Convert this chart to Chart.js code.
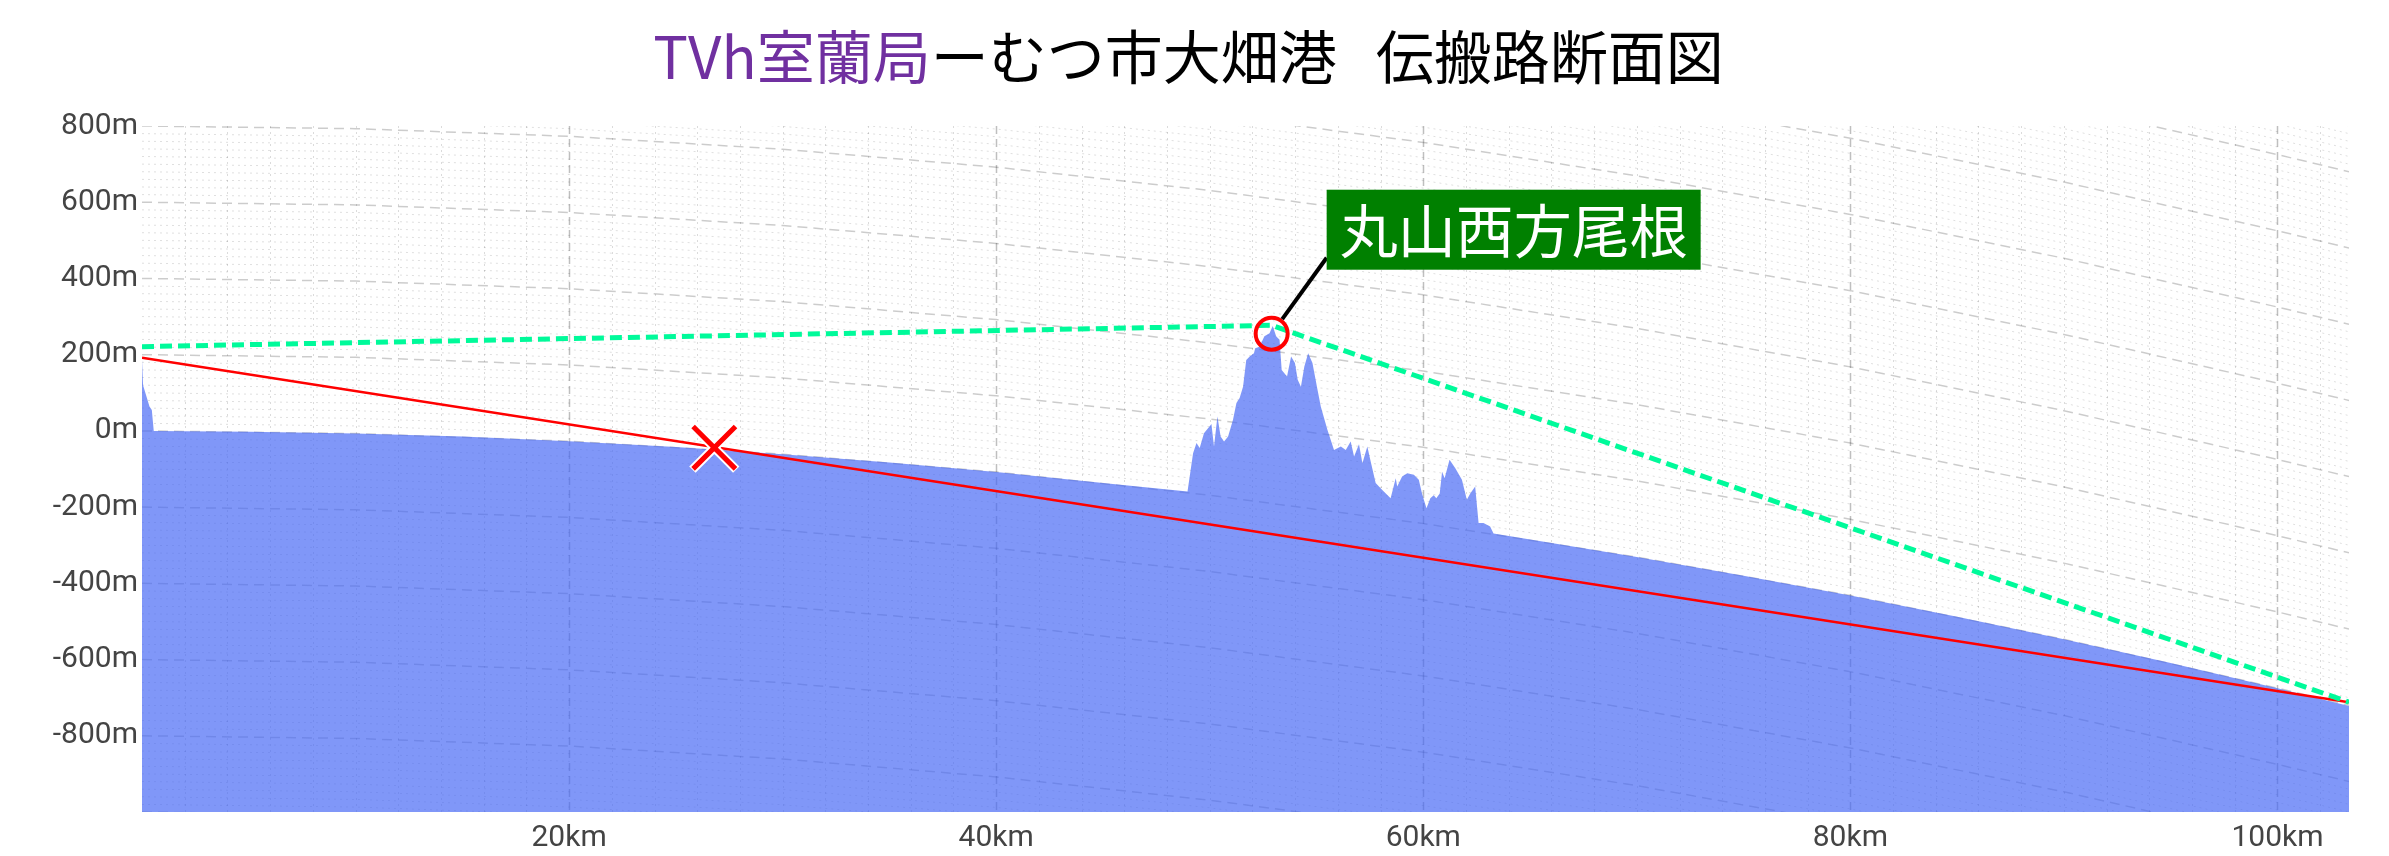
<!DOCTYPE html>
<html lang="ja">
<head>
<meta charset="UTF-8">
<title>伝搬路断面図</title>
<script src="https://cdn.jsdelivr.net/npm/chart.js"></script>
<style>
  body { margin: 0; background: #fff; }
  #wrap { position: relative; width: 2389px; height: 856px; }
  #title {
    position: absolute; left: -6px; top: 25px; width: 2389px; white-space: pre;
    text-align: center; font: 58px/58px "Noto Sans CJK JP", sans-serif; color: #000;
  }
  #title .tx { color: #7030a0; }
</style>
</head>
<body>
<div id="wrap">
  <canvas id="profile" width="2389" height="856"></canvas>
  <div id="title"><span class="tx">TVh室蘭局</span>ーむつ市大畑港   伝搬路断面図</div>
</div>
<script>
// terrain profile (distance km / height m, earth curvature already applied)
const terrainKm = [0, 0.05, 0.35, 0.46, 0.55, 5, 10, 15, 20, 25, 30, 35, 40, 45, 48.96,
  49.22, 49.38, 49.53, 49.73, 49.92, 50.08, 50.2, 50.36, 50.51, 50.67, 50.86, 51.09, 51.25, 51.4,
  51.56, 51.71, 51.87, 52.07, 52.13, 52.33, 52.56, 52.8, 52.95, 53.11, 53.27, 53.37, 53.62, 53.81,
  53.99, 54.12, 54.27, 54.43, 54.61, 54.81, 55.02, 55.2, 55.51, 55.82, 56.14, 56.37, 56.6, 56.76,
  56.99, 57.15, 57.38, 57.54, 57.77, 58.08, 58.47, 58.71, 58.78, 59.01, 59.25, 59.56, 59.79, 59.94,
  60.15, 60.33, 60.49, 60.61, 60.77, 60.88, 61.0, 61.23, 61.5, 61.81, 62.04, 62.2, 62.43, 62.59,
  62.82, 63.13, 63.29, 64.22, 70, 75, 80, 85, 90, 95, 100, 103.35];
const terrainM = [186, 120, 64, 55, 0, -2, -7, -15, -27, -42, -61, -83, -108, -137, -159,
  -59, -32, -45, -6, 7, 18, -41, 38, -15, -28, -15, 29, 73, 86,
  116, 186, 195, 204, 217, 221, 248, 256, 275, 248, 239, 160, 143, 195,
  178, 134, 116, 169, 204, 178, 116, 64, 3, -50, -41, -50, -28, -67,
  -35, -85, -41, -81, -137, -155, -177, -124, -146, -120, -111, -115, -128, -164,
  -203, -177, -169, -177, -164, -107, -124, -76, -98, -128, -181, -164, -146, -242,
  -242, -251, -269, -278, -331, -380, -432, -488, -547, -609, -675, -722];

// direct line (red)
const directKm = [0, 103.35];
const directM = [192, -712];

// diffraction path (green dashed)
const pathKm = [0, 52.9, 103.35];
const pathM = [221, 277, -712];

// obstruction marks
const crossKm = [26.8];
const crossM = [-44];
const peakKm = [52.9];
const peakM = [255];
const peakName = '丸山西方尾根';

// earth-curvature drop of the grid curves
const curveKm = [0, 10, 20, 30, 40, 50, 60, 70, 80, 90, 100, 103.35];
const curveDrop = [0, 7, 27, 61, 108, 169, 243, 331, 432, 547, 675, 720];

// axis ticks
const xTicks = [20, 40, 60, 80, 100];
const yTicks = [-800, -600, -400, -200, 0, 200, 400, 600, 800];

const pts = (xs, ys) => xs.map((v, i) => ({ x: v, y: ys[i] }));

const curvedGrid = {
  id: 'curvedGrid',
  beforeDatasetsDraw(chart) {
    const { ctx, chartArea: a, scales: { x, y } } = chart;
    ctx.save();
    ctx.beginPath();
    ctx.rect(a.left, a.top, a.right - a.left, a.bottom - a.top);
    ctx.clip();

    // vertical lines every 2 km
    for (let km = 2; km < x.max; km += 2) {
      const major = km % 20 === 0;
      const px = Math.round(x.getPixelForValue(km)) + 0.5;
      ctx.setLineDash(major ? [8, 5] : [2, 4]);
      ctx.strokeStyle = major ? 'rgba(0,0,0,0.25)' : 'rgba(0,0,0,0.14)';
      ctx.lineWidth = major ? 1.5 : 1;
      ctx.beginPath();
      ctx.moveTo(px, a.top);
      ctx.lineTo(px, a.bottom);
      ctx.stroke();
    }

    // curved height lines every 20 m
    for (const pass of [false, true]) {
      for (let lv = -1000; lv <= 2000; lv += 20) {
        const major = lv % 200 === 0;
        if (major !== pass) continue;
        ctx.setLineDash(major ? [10, 6] : [2, 4]);
        ctx.strokeStyle = major ? 'rgba(0,0,0,0.2)' : 'rgba(0,0,0,0.13)';
        ctx.lineWidth = major ? 1.5 : 1;
        ctx.beginPath();
        curveKm.forEach((k, i) => {
          const px = x.getPixelForValue(k);
          const py = y.getPixelForValue(lv - curveDrop[i]);
          if (i) ctx.lineTo(px, py); else ctx.moveTo(px, py);
        });
        ctx.stroke();
      }
    }
    ctx.restore();
  }
};

const peakLabel = {
  id: 'peakLabel',
  afterDatasetsDraw(chart) {
    const { ctx, scales: { x, y } } = chart;
    const cx = x.getPixelForValue(peakKm[0]);
    const cy = y.getPixelForValue(peakM[0]);
    ctx.save();
    ctx.font = '58px "Noto Sans CJK JP"';
    const tw = ctx.measureText(peakName).width;
    const bx = cx + 55, bb = cy - 64, bw = tw + 26, bh = 80;
    const ex = bx, ey = bb - 12;
    const ang = Math.atan2(ey - cy, ex - cx);
    ctx.strokeStyle = '#000';
    ctx.lineWidth = 4;
    ctx.beginPath();
    ctx.moveTo(cx + 18 * Math.cos(ang), cy + 18 * Math.sin(ang));
    ctx.lineTo(ex, ey);
    ctx.stroke();
    ctx.fillStyle = '#008000';
    ctx.fillRect(bx, bb - bh, bw, bh);
    ctx.fillStyle = '#fff';
    ctx.textAlign = 'left';
    ctx.textBaseline = 'middle';
    ctx.fillText(peakName, bx + 13, bb - bh / 2 + 1);
    ctx.restore();
  }
};

new Chart(document.getElementById('profile'), {
  type: 'line',
  data: {
    datasets: [
      {
        data: pts(terrainKm, terrainM),
        borderWidth: 0,
        backgroundColor: 'rgba(65,100,245,0.67)',
        fill: 'start',
        pointRadius: 0,
        order: 6
      },
      {
        data: pts(directKm, directM),
        borderColor: '#ff0000',
        borderWidth: 2.5,
        pointRadius: 0,
        fill: false,
        order: 5
      },
      {
        data: pts(pathKm, pathM),
        borderColor: 'rgb(0,250,154)',
        borderWidth: 5,
        borderDash: [12, 6],
        pointRadius: 0,
        fill: false,
        order: 4
      },
      {
        data: pts(crossKm, crossM),
        showLine: false,
        pointStyle: 'crossRot',
        pointRadius: 31,
        borderColor: '#fff',
        pointBorderWidth: 9,
        order: 3
      },
      {
        data: pts(crossKm, crossM),
        showLine: false,
        pointStyle: 'crossRot',
        pointRadius: 30,
        borderColor: '#ff0000',
        pointBorderWidth: 5,
        order: 2
      },
      {
        data: pts(peakKm, peakM),
        showLine: false,
        pointStyle: 'circle',
        pointRadius: 16,
        borderColor: '#ff0000',
        backgroundColor: 'rgba(0,0,0,0)',
        pointBorderWidth: 4,
        order: 1
      }
    ]
  },
  options: {
    responsive: false,
    animation: false,
    devicePixelRatio: 1,
    layout: { padding: { top: 126, right: 30, left: 0, bottom: 0 } },
    plugins: { legend: { display: false }, tooltip: { enabled: false }, title: { display: false } },
    scales: {
      x: {
        type: 'linear',
        min: 0,
        max: 103.35,
        grid: { display: false, drawTicks: false },
        border: { display: false },
        afterBuildTicks: s => { s.ticks = xTicks.map(v => ({ value: v })); },
        afterFit: s => { s.height = 44; s.paddingLeft = 0; s.paddingRight = 0; },
        ticks: {
          autoSkip: false,
          maxRotation: 0,
          padding: 8,
          color: '#444',
          font: { family: 'Roboto', size: 30 },
          callback: v => v + 'km'
        }
      },
      y: {
        min: -1000,
        max: 800,
        grid: { display: false, drawTicks: false },
        border: { display: false },
        afterBuildTicks: s => { s.ticks = yTicks.map(v => ({ value: v })); },
        afterFit: s => { s.width = 142; },
        ticks: {
          autoSkip: false,
          padding: 4,
          color: '#444',
          font: { family: 'Roboto', size: 30 },
          callback: v => v + 'm'
        }
      }
    }
  },
  plugins: [curvedGrid, peakLabel]
});
</script>
</body>
</html>
